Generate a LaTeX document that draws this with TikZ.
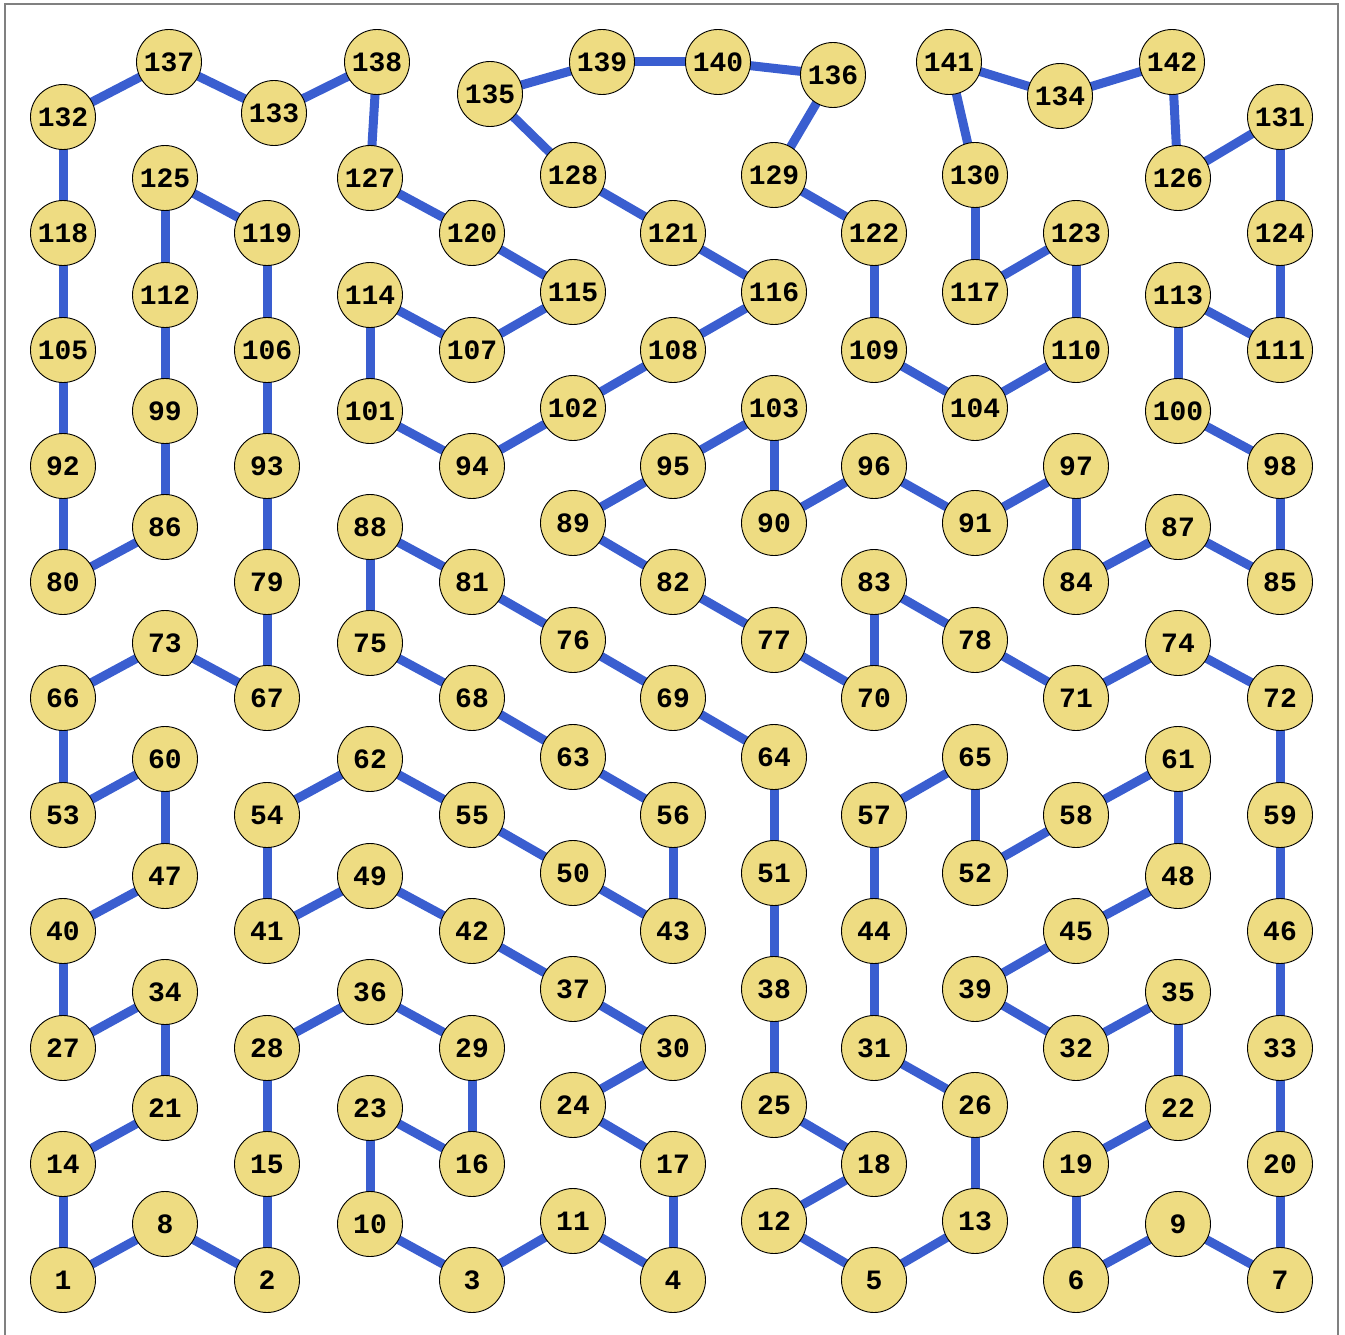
\documentclass[tikz,border=0pt]{standalone}
\usepackage{fontspec}
\setmonofont{Liberation Mono}
\usetikzlibrary{backgrounds}
\definecolor{nodefill}{RGB}{238,220,130}
\definecolor{edgeblue}{RGB}{58,94,208}
\definecolor{framegray}{RGB}{128,128,128}
\tikzset{
  vtx/.style={circle,draw=black,line width=0.9pt,fill=nodefill,minimum size=65pt,inner sep=0pt,
    font=\fontsize{28}{28}\selectfont\ttfamily\bfseries},
  edg/.style={draw=edgeblue,line width=9pt},
  framel/.style={draw=framegray,line width=1.5pt}
}
\begin{document}
\begin{tikzpicture}[x=1pt,y=-1pt]
\useasboundingbox (0,0) rectangle (1345,1335);
\coordinate (fbl) at (5,1336);
\coordinate (ftl) at (5,4);
\coordinate (ftr) at (1338,4);
\coordinate (fbr) at (1338,1336);
\draw[framel] (fbl) -- (ftl) -- (ftr) -- (fbr);
\foreach \n/\x/\y in {
1/63/1280, 2/267/1280, 3/472/1280, 4/673/1280, 5/874/1280, 6/1076/1280, 7/1280/1280,
8/165/1224, 9/1178/1224, 10/370/1224, 11/573/1221, 12/774/1221, 13/975/1221,
14/63/1164, 15/267/1164, 16/472/1164, 17/673/1164, 18/874/1164, 19/1076/1164, 20/1280/1164,
21/165/1108, 22/1178/1108, 23/370/1108, 24/573/1105, 25/774/1105, 26/975/1105,
27/63/1048, 28/267/1048, 29/472/1048, 30/673/1048, 31/874/1048, 32/1076/1048, 33/1280/1048,
34/165/992, 35/1178/992, 36/370/992, 37/573/989, 38/774/989, 39/975/989,
40/63/931, 41/267/931, 42/472/931, 43/673/931, 44/874/931, 45/1076/931, 46/1280/931,
47/165/876, 48/1178/876, 49/370/876, 50/573/873, 51/774/873, 52/975/873,
53/63/815, 54/267/815, 55/472/815, 56/673/815, 57/874/815, 58/1076/815, 59/1280/815,
60/165/759, 61/1178/759, 62/370/759, 63/573/757, 64/774/757, 65/975/757,
66/63/698, 67/267/698, 68/472/698, 69/673/698, 70/874/698, 71/1076/698, 72/1280/698,
73/165/643, 74/1178/643, 75/370/643, 76/573/640, 77/774/640, 78/975/640,
79/267/582, 80/63/582, 81/472/582, 82/673/582, 83/874/582, 84/1076/582, 85/1280/582,
86/165/527, 87/1178/527, 88/370/527, 89/573/523, 90/774/523, 91/975/523,
92/63/466, 93/267/466, 94/472/466, 95/673/466, 96/874/466, 97/1076/466, 98/1280/466,
99/165/411, 100/1178/411, 101/370/411, 102/573/408, 103/774/408, 104/975/408,
105/63/350, 106/267/350, 107/472/350, 108/673/350, 109/874/350, 110/1076/350, 111/1280/350,
112/165/295, 113/1178/295, 114/370/295, 115/573/292, 116/774/292, 117/975/292,
118/63/233, 119/267/233, 120/472/233, 121/673/233, 122/874/233, 123/1076/233, 124/1280/233,
125/165/178, 126/1178/178, 127/370/178, 128/573/175, 129/774/175, 130/975/175,
131/1280/117, 132/63/117, 133/274/113, 134/1060/96, 135/490/94, 136/833/75,
137/169/62, 138/377/62, 139/602/62, 140/718/62, 141/949/62, 142/1172/62}
  \node[vtx] (n\n) at (\x,\y) {\n};
\begin{scope}[on background layer]
\foreach \a/\b in {
1/8, 8/2, 1/14, 2/15, 14/21, 21/34, 34/27, 27/40, 40/47, 47/60, 60/53, 53/66, 66/73, 73/67,
67/79, 79/93, 93/106, 106/119, 119/125, 125/112, 112/99, 99/86, 86/80, 80/92, 92/105,
105/118, 118/132, 132/137, 137/133, 133/138, 138/127, 127/120, 120/115, 115/107, 107/114,
114/101, 101/94, 94/102, 102/108, 108/116, 116/121, 121/128, 128/135, 135/139, 139/140,
140/136, 136/129, 129/122, 122/109, 109/104, 104/110, 110/123, 123/117, 117/130, 130/141,
141/134, 134/142, 142/126, 126/131, 131/124, 124/111, 111/113, 113/100, 100/98, 98/85,
85/87, 87/84, 84/97, 97/91, 91/96, 96/90, 90/103, 103/95, 95/89, 89/82, 82/77, 77/70,
70/83, 83/78, 78/71, 71/74, 74/72, 72/59, 59/46, 46/33, 33/20, 20/7, 7/9, 9/6, 6/19,
19/22, 22/35, 35/32, 32/39, 39/45, 45/48, 48/61, 61/58, 58/52, 52/65, 65/57, 57/44,
44/31, 31/26, 26/13, 13/5, 5/12, 12/18, 18/25, 25/38, 38/51, 51/64, 64/69, 69/76, 76/81,
81/88, 88/75, 75/68, 68/63, 63/56, 56/43, 43/50, 50/55, 55/62, 62/54, 54/41, 41/49,
49/42, 42/37, 37/30, 30/24, 24/17, 17/4, 4/11, 11/3, 3/10, 10/23, 23/16, 16/29, 29/36,
36/28, 28/15}
  \draw[edg] (n\a.center) -- (n\b.center);
\end{scope}
\end{tikzpicture}
\end{document}
